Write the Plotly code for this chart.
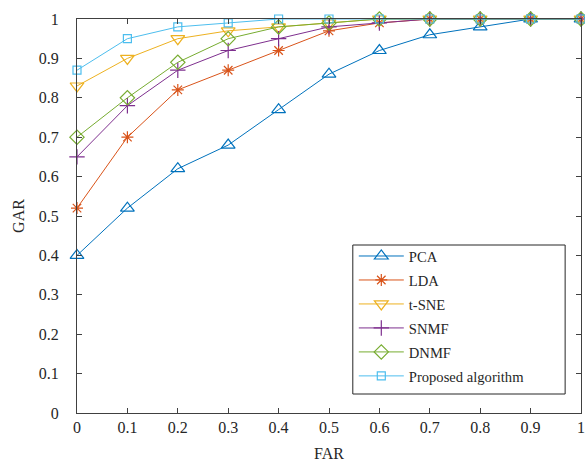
import plotly.graph_objects as go

far = [0, 0.1, 0.2, 0.3, 0.4, 0.5, 0.6, 0.7, 0.8, 0.9, 1.0]
pca = [0.40, 0.52, 0.62, 0.68, 0.77, 0.86, 0.92, 0.96, 0.98, 1.0, 1.0]
lda = [0.52, 0.70, 0.82, 0.87, 0.92, 0.97, 0.99, 1.0, 1.0, 1.0, 1.0]
tsne = [0.83, 0.90, 0.95, 0.97, 0.98, 0.99, 1.0, 1.0, 1.0, 1.0, 1.0]
snmf = [0.65, 0.78, 0.87, 0.92, 0.95, 0.98, 0.99, 1.0, 1.0, 1.0, 1.0]
dnmf = [0.70, 0.80, 0.89, 0.95, 0.98, 0.99, 1.0, 1.0, 1.0, 1.0, 1.0]
proposed = [0.87, 0.95, 0.98, 0.99, 1.0, 1.0, 1.0, 1.0, 1.0, 1.0, 1.0]

names = ["PCA", "LDA", "t-SNE", "SNMF", "DNMF", "Proposed algorithm"]
series = [pca, lda, tsne, snmf, dnmf, proposed]
colors = ["#0072BD", "#D95319", "#EDB120", "#7E2F8E", "#77AC30", "#4DBEEE"]
symbols = ["triangle-up-open", "asterisk-open", "triangle-down-open",
           "cross-thin-open", "diamond-open", "square-open"]
sizes = [12, 10, 12, 11, 11, 8]
tick_vals = [0, 0.1, 0.2, 0.3, 0.4, 0.5, 0.6, 0.7, 0.8, 0.9, 1.0]
tick_text = ["0", "0.1", "0.2", "0.3", "0.4", "0.5", "0.6", "0.7", "0.8", "0.9", "1"]

fig = go.Figure()
for n, s, c, m, sz in zip(names, series, colors, symbols, sizes):
    fig.add_trace(go.Scatter(
        x=far, y=s, name=n, mode="lines+markers", legendgroup=n,
        line=dict(color=c, width=1),
        marker=dict(symbol=m, size=sz, color=c, line=dict(color=c, width=1.2)),
        cliponaxis=False,
    ))

axcol = "#404040"
font = "Liberation Serif, Times New Roman, serif"
W, H = 585, 465
L, R, T, B = 77, 0, 19, 52
pw, ph = W - L - R, H - T - B


def px_x(p):
    return (p - L) / pw


def px_y(p):
    return (H - B - p) / ph


# legend box (border drawn as a shape)
fig.add_shape(type="rect", xref="paper", yref="paper",
              x0=px_x(355), x1=px_x(569), y0=px_y(394), y1=px_y(245),
              line=dict(color="#262626", width=1), fillcolor="white", layer="above")

fig.update_layout(
    width=W, height=H,
    margin=dict(l=L, r=R, t=T, b=B),
    plot_bgcolor="white", paper_bgcolor="white",
    font=dict(family=font, size=16, color="#262626"),
    showlegend=True,
    legend=dict(x=px_x(356), y=px_y(240), xanchor="left", yanchor="top",
                bgcolor="rgba(0,0,0,0)", borderwidth=0,
                font=dict(family=font, size=14.6, color="#262626"),
                itemwidth=45, tracegroupgap=2),
)
fig.update_xaxes(range=[0, 1], tickvals=tick_vals, ticktext=tick_text,
                 ticks="inside", ticklen=5, tickcolor=axcol, showline=True,
                 linecolor=axcol, linewidth=1, mirror="ticks", showgrid=False,
                 zeroline=False, ticklabeloverflow="allow", ticklabelstandoff=0,
                 title=dict(text="FAR", standoff=12, font=dict(size=16)))
fig.update_yaxes(range=[0, 1], tickvals=tick_vals, ticktext=tick_text,
                 ticks="inside", ticklen=5, tickcolor=axcol, showline=True,
                 linecolor=axcol, linewidth=1, mirror="ticks", showgrid=False,
                 zeroline=False, ticklabelstandoff=14,
                 title=dict(text="GAR", standoff=10, font=dict(size=16)))

fig.write_html("out.html")
